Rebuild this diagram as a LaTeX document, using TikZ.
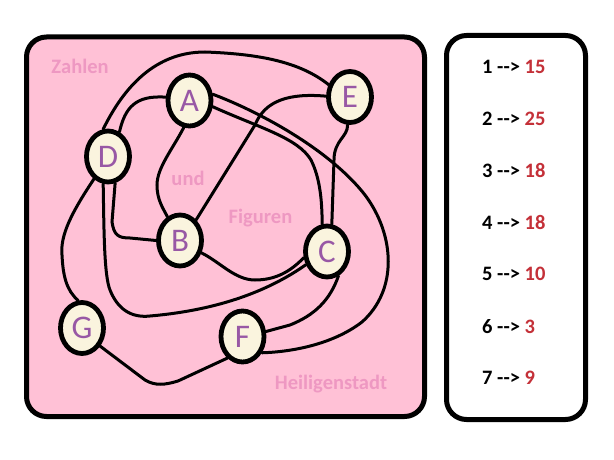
\documentclass[tikz,border=0pt]{standalone}
\usepackage{fontspec}
\setmainfont{Carlito}
\usetikzlibrary{shapes.geometric}
\definecolor{bgpink}{RGB}{255,193,214}
\definecolor{cream}{RGB}{250,244,222}
\definecolor{vpurple}{RGB}{152,88,165}
\definecolor{lblpink}{RGB}{238,152,194}
\definecolor{numred}{RGB}{196,48,56}
\begin{document}
\begin{tikzpicture}[x=1pt,y=-1pt,
  vtx/.style={ellipse, draw=black, line width=4.8pt, fill=cream, minimum width=43pt, minimum height=51pt, inner sep=0pt, text=vpurple, font=\fontsize{33}{33}\selectfont},
  edge/.style={line width=3pt, line cap=round},
  lbl/.style={text=lblpink, font=\bfseries\fontsize{20.5}{20.5}\selectfont, inner sep=0pt},
  num/.style={anchor=west, inner sep=0pt, font=\bfseries\fontsize{20.5}{20.5}\selectfont},
  panel/.style={line width=5pt, rounded corners=20pt}]
\useasboundingbox (0,0) rectangle (614,460);
\fill[white] (0,0) rectangle (614,460);
% panels
\draw[panel, fill=bgpink] (26.5,37) rectangle (424.5,416.5);
\draw[panel, fill=white] (446.5,35.5) rectangle (585.5,419.5);
% labels
\node[lbl] (zahlen) at (80,66) {Zahlen};
\node[lbl] (und) at (188,178) {und};
\node[lbl] (figuren) at (260.5,218) {Figuren};
\node[lbl] (heilig) at (331,384) {Heiligenstadt};
% vertices
\node[vtx] (A) at (189.5,100.5) {A};
\node[vtx] (E) at (350,97) {E};
\node[vtx] (D) at (108,156.5) {D};
\node[vtx] (B) at (180,240.5) {B};
\node[vtx] (C) at (327,251.5) {C};
\node[vtx] (G) at (82,328) {G};
\node[vtx] (F) at (242.5,336.5) {F};
% edges
\draw[edge] (D.100) .. controls (120,95) and (150,52) .. (205,52) .. controls (260,54) and (300,62) .. (E.150);
\draw[edge] (D.65) .. controls (125,108) and (135,95) .. (A.172);
\draw[edge] (A.258) .. controls (172,150) and (157,168) .. (157,185) .. controls (157,200) and (163,208) .. (B.118);
\draw[edge] (A.-15) .. controls (260,128) and (298,138) .. (311,160) .. controls (320,178) and (322,200) .. (C.100);
\draw[edge] (A.15) .. controls (260,112) and (330,150) .. (365,195) .. controls (395,235) and (398,290) .. (362,322) .. controls (332,345) and (290,352) .. (F.-40);
\draw[edge] (E.178) .. controls (290,93) and (265,100) .. (255,125) -- (B.52);
\draw[edge] (E.-95) .. controls (348,137) and (334,140) .. (334,160) -- (C.80);
\draw[edge] (D.-75) -- (112,222) .. controls (114,235) and (118,238) .. (130,238) -- (B.180);
\draw[edge] (D.-100) .. controls (104,230) and (104,275) .. (110,290) .. controls (118,310) and (132,318) .. (150,316) .. controls (220,310) and (270,290) .. (C.212);
\draw[edge] (D.238) .. controls (72,212) and (60,235) .. (62,255) .. controls (63,275) and (66,290) .. (G.98);
\draw[edge] (B.-30) .. controls (220,262) and (235,280) .. (255,280) .. controls (275,280) and (290,272) .. (C.195);
\draw[edge] (G.-45) -- (145,380) .. controls (155,386) and (165,385) .. (178,381) -- (F.235);
\draw[edge] (C.-65) .. controls (330,300) and (315,315) .. (290,325) -- (F.12);
% list
\node[num] (l1) at (482,67) {1 -{}-{}> \textcolor{numred}{15}};
\node[num] (l2) at (482,119) {2 -{}-{}> \textcolor{numred}{25}};
\node[num] (l3) at (482,170.5) {3 -{}-{}> \textcolor{numred}{18}};
\node[num] (l4) at (482,222.5) {4 -{}-{}> \textcolor{numred}{18}};
\node[num] (l5) at (482,274) {5 -{}-{}> \textcolor{numred}{10}};
\node[num] (l6) at (482,326.5) {6 -{}-{}> \textcolor{numred}{3}};
\node[num] (l7) at (482,378) {7 -{}-{}> \textcolor{numred}{9}};
\end{tikzpicture}
\end{document}
